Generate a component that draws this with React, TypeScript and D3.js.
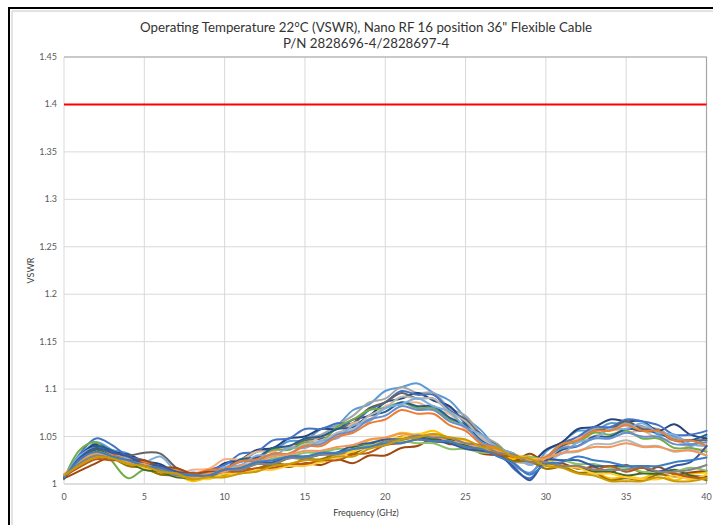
import React from "react";
import * as d3 from "d3";

const TITLE_LINES = [
  "Operating Temperature 22°C (VSWR), Nano RF 16 position 36\" Flexible Cable",
  "P/N 2828696-4/2828697-4",
];
const X_TITLE = "Frequency (GHz)";
const Y_TITLE = "VSWR";
const FREQ_GHZ = [0,1,2,3,4,5,6,7,8,9,10,11,12,13,14,15,16,17,18,19,20,21,22,23,24,25,26,27,28,29,30,31,32,33,34,35,36,37,38,39,40];
const X_TICKS = [0, 5, 10, 15, 20, 25, 30, 35, 40];
const Y_TICKS = [1, 1.05, 1.1, 1.15, 1.2, 1.25, 1.3, 1.35, 1.4, 1.45];
const Y_TICK_LABELS = ["1", "1.05", "1.1", "1.15", "1.2", "1.25", "1.3", "1.35", "1.4", "1.45"];
const LIMIT_VSWR = 1.4;

// VSWR readings stored as (VSWR - 1) x 1000, one value per GHz
const S01 = [7,28,44,36,32,22,19,11,12,12,21,23,34,36,45,46,58,62,78,84,98,102,106,96,88,70,56,36,22,10,34,44,56,56,64,62,61,52,50,40,50];
const S02 = [8,26,40,35,26,23,14,13,8,14,16,26,28,38,38,48,52,62,72,86,90,102,96,96,80,72,52,42,26,22,28,44,48,58,58,64,60,58,48,46,40];
const S03 = [6,30,42,34,31,24,21,12,11,11,22,26,36,38,48,50,58,58,68,72,86,90,96,88,82,64,52,38,32,22,36,44,58,60,68,66,66,56,63,52,48];
const S04 = [6,32,48,41,29,25,18,15,9,15,20,32,34,46,48,58,58,64,64,78,86,98,94,94,78,68,48,38,16,6,26,42,50,60,60,68,66,62,52,52,56];
const S05 = [8,24,38,33,30,33,32,17,9,13,16,26,28,36,38,46,48,58,64,80,86,96,90,90,76,68,50,40,26,26,28,40,46,56,58,66,58,56,46,46,46];
const S06 = [10,22,34,30,27,18,17,11,15,16,26,26,34,34,40,40,50,52,64,68,82,84,86,78,74,58,50,36,30,20,30,36,48,50,58,54,56,48,46,38,36];
const S07 = [5,36,44,24,6,15,10,9,5,11,14,26,28,36,36,44,44,60,68,78,80,86,80,80,68,62,46,40,28,26,28,42,44,54,52,56,48,48,38,38,34];
const S08 = [7,28,40,35,26,23,16,15,8,13,16,26,28,38,40,48,50,58,60,72,76,86,82,82,70,62,46,38,26,26,24,36,40,50,50,58,56,54,46,46,52];
const S09 = [9,26,36,33,25,23,16,15,8,14,14,24,24,32,32,42,44,54,58,72,80,92,90,90,76,66,48,38,24,22,22,32,34,42,42,46,40,40,34,36,30];
const S10 = [6,30,38,31,27,23,29,13,9,9,18,20,30,30,38,38,46,48,62,66,80,84,90,82,76,60,52,38,32,20,28,32,44,48,58,58,64,54,52,42,40];
const S11 = [8,24,36,31,23,21,14,13,7,13,16,24,24,32,32,40,42,52,56,68,72,82,78,78,66,60,44,38,20,12,28,38,40,48,48,54,50,50,42,42,44];
const S12 = [7,20,32,31,25,23,16,15,11,15,16,24,26,32,32,40,40,50,54,64,68,78,74,74,62,56,42,38,28,28,28,42,46,56,56,62,56,56,46,46,40];
const S13 = [8,20,32,29,21,17,10,9,3,7,8,16,16,22,20,26,24,32,34,46,48,54,52,56,48,46,36,34,26,28,20,20,12,12,6,8,6,12,4,10,12];
const S14 = [6,14,22,29,25,25,18,17,11,13,12,18,14,20,18,22,20,26,22,30,30,38,40,48,42,42,32,30,24,32,22,22,16,18,12,20,12,18,10,12,14];
const S15 = [7,22,30,27,19,17,10,9,5,9,10,16,16,22,20,26,26,32,32,40,42,50,48,52,44,42,34,32,24,24,16,18,12,12,4,6,4,10,8,8,4];
const S16 = [6,26,36,29,23,15,13,7,7,7,13,15,21,21,27,27,31,33,39,41,47,47,51,47,47,41,37,31,29,25,25,19,17,13,13,9,11,11,15,9,8];
const S17 = [7,22,30,27,21,19,13,11,5,9,11,17,21,27,29,33,33,37,37,41,41,45,43,43,37,37,33,33,29,29,25,25,21,21,17,17,13,13,13,17,14];
const S18 = [9,24,34,29,25,17,15,9,7,5,11,11,15,15,19,19,23,27,35,39,47,49,53,51,49,43,39,33,31,27,25,19,17,11,11,7,5,5,9,5,10];
const S19 = [6,28,38,33,29,21,19,13,11,9,15,17,23,23,29,29,31,33,41,43,47,47,49,45,43,37,35,31,18,4,25,25,25,19,19,19,17,13,19,23,40];
const S20 = [8,18,26,25,25,19,17,11,11,9,13,13,17,17,21,21,25,25,31,33,41,43,47,45,45,39,37,31,29,25,23,19,19,15,19,13,17,13,11,7,6];
const S21 = [10,24,32,29,23,21,15,11,7,11,13,19,23,29,31,35,35,39,41,47,49,53,51,51,45,43,37,35,29,25,27,33,35,39,39,43,39,39,35,35,30];
const S22 = [8,22,30,27,25,19,15,9,9,9,15,15,21,21,27,27,31,31,37,39,45,47,51,49,49,43,41,33,31,23,23,19,19,15,15,15,19,13,13,15,20];
const S23 = [7,26,34,29,25,19,17,11,9,9,15,17,23,25,29,29,33,33,37,39,43,43,47,45,45,39,37,29,22,10,21,23,29,25,23,19,19,19,23,25,28];
const S24 = [9,20,28,27,21,19,13,11,5,7,7,11,13,19,21,25,25,29,29,37,41,47,49,53,49,47,39,37,29,27,19,17,11,9,3,3,3,7,3,3,6];

const SERIES = [S01,S02,S03,S04,S05,S06,S07,S08,S09,S10,S11,S12,S13,S14,S15,S16,S17,S18,S19,S20,S21,S22,S23,S24];
const COLORS = [
  "#5B9BD5","#A5A5A5","#264478","#4472C4","#636363","#F4B183",
  "#70AD47","#255E91","#B7B7B7","#7CAFDD","#698ED0","#ED7D31",
  "#FFC000","#9E480E","#997300","#43682B","#8CC168","#FFCD33",
  "#335AA1","#BC5A15","#F1975A","#848484","#3C7DC4","#CC9A00",
];

export default function App() {
  const W = 713, H = 525;
  const x = d3.scaleLinear().domain([0, 40]).range([64, 706.5]);
  const y = d3.scaleLinear().domain([1, 1.45]).range([484, 57]);
  const line = d3
    .line<number>()
    .x((_, i) => x(FREQ_GHZ[i]))
    .y((d) => y(1 + d / 1000))
    .curve(d3.curveCatmullRom.alpha(0.5));
  const font = "Lato, 'Liberation Sans', sans-serif";
  const [x0, x1] = x.range();
  const [y0, y1] = y.range();
  return (
    <svg width={W} height={H} style={{ position: "absolute", left: 0, top: 0, background: "#fff" }} fontFamily={font}>
      <rect x={0} y={0} width={W} height={H} fill="#fff" />
      <path d={`M9,${H} L9,8 L${W},8`} fill="none" stroke="#000" strokeWidth={2} />
      <path d={`M12,${H} L12,11 L${W},11`} fill="none" stroke="#C8C8C8" strokeWidth={1} />
      {TITLE_LINES.map((t, i) => (
        <text key={i} x={366} y={32 + i * 16} textAnchor="middle" fontSize={13.3} fill="#333">{t}</text>
      ))}
      {Y_TICKS.map((v) => (
        <line key={"gy" + v} x1={x0} x2={x1} y1={y(v)} y2={y(v)} stroke="#D9D9D9" strokeWidth={1} />
      ))}
      {X_TICKS.map((v) => (
        <line key={"gx" + v} x1={x(v)} x2={x(v)} y1={y0} y2={y1} stroke="#D9D9D9" strokeWidth={1} />
      ))}
      <path d={`M${x0},${y1} L${x1},${y1} L${x1},${y0}`} fill="none" stroke="#A6A6A6" strokeWidth={1.2} />
      <line x1={x0} x2={x1} y1={y0} y2={y0} stroke="#D0D0D0" strokeWidth={1} />
      {Y_TICKS.map((v, i) => (
        <text key={"ty" + v} x={57} y={y(v) + 3} textAnchor="end" fontSize={9} fill="#595959">{Y_TICK_LABELS[i]}</text>
      ))}
      {X_TICKS.map((v) => (
        <text key={"tx" + v} x={x(v)} y={500} textAnchor="middle" fontSize={9} fill="#595959">{v}</text>
      ))}
      <text x={366} y={516} textAnchor="middle" fontSize={9} fill="#404040">{X_TITLE}</text>
      <text transform={`translate(34,${(y0 + y1) / 2}) rotate(-90)`} textAnchor="middle" fontSize={9} fill="#404040">{Y_TITLE}</text>
      <g fill="none" strokeWidth={2} strokeLinejoin="round" strokeLinecap="round">
        {SERIES.map((s, i) => (
          <path key={i} d={line(s) || ""} stroke={COLORS[i % COLORS.length]} />
        ))}
      </g>
      <line x1={x(0)} x2={x(40)} y1={y(LIMIT_VSWR)} y2={y(LIMIT_VSWR)} stroke="#FF0000" strokeWidth={2} />
    </svg>
  );
}
